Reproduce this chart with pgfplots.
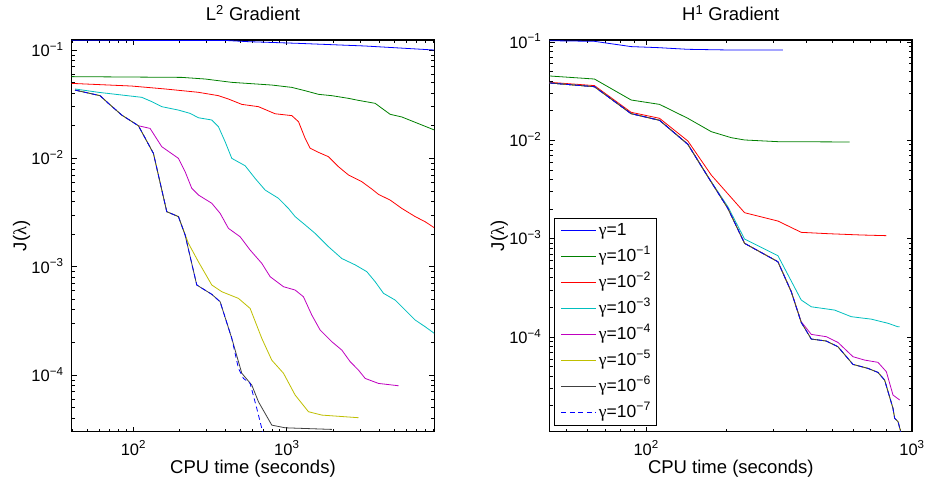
\documentclass[border=0pt]{standalone}
\usepackage{fontspec}
\setmainfont{Liberation Sans}
\newfontfamily\greekfont{Liberation Serif}
\usepackage{pgfplots}
\pgfplotsset{compat=1.18}

\definecolor{cB}{rgb}{0,0,1}
\definecolor{cG}{rgb}{0,0.5,0}
\definecolor{cR}{rgb}{1,0,0}
\definecolor{cC}{rgb}{0,0.75,0.75}
\definecolor{cM}{rgb}{0.75,0,0.75}
\definecolor{cY}{rgb}{0.75,0.75,0}
\definecolor{cK}{rgb}{0.25,0.25,0.25}

\pgfplotsset{
  myaxis/.style={
    scale only axis,
    width=362.5pt, height=391.7pt,
    anchor=south west,
    tick align=inside,
    major tick length=5pt, minor tick length=3pt,
    axis line style={line width=1.3pt},
    every tick/.append style={line width=0.7pt, black},
    tick label style={font=\fontsize{16.5}{18}\selectfont},
    xticklabel style={anchor=base, inner sep=0pt, yshift=-23.3pt},
    yticklabel style={anchor=base east, inner sep=0pt, xshift=-8pt, yshift=-6.3pt},
    xlabel style={font=\fontsize{18.5}{20}\selectfont, at={(axis description cs:0.5,0)}, anchor=base, yshift=-41.6pt},
    ylabel style={font=\fontsize{18.5}{20}\selectfont, at={(axis description cs:-0.125,0.5)}, anchor=base},
    title style={font=\fontsize{18.5}{20}\selectfont, at={(axis description cs:0.5,1)}, anchor=base, yshift=13.3pt},
    xtick={100,1000}, xticklabels={10\textsuperscript{2},10\textsuperscript{3}},
    ytick={1e-4,1e-3,1e-2,1e-1},
    yticklabels={10\textsuperscript{−4},10\textsuperscript{−3},10\textsuperscript{−2},10\textsuperscript{−1}},
    minor ytick={2e-5,3e-5,4e-5,5e-5,6e-5,7e-5,8e-5,9e-5,2e-4,3e-4,4e-4,5e-4,6e-4,7e-4,8e-4,9e-4,2e-3,3e-3,4e-3,5e-3,6e-3,7e-3,8e-3,9e-3,2e-2,3e-2,4e-2,5e-2,6e-2,7e-2,8e-2,9e-2},
    xlabel={CPU time (seconds)},
    ylabel={J({\greekfont λ})},
  }
}

\begin{document}
\begin{tikzpicture}[x=1pt,y=1pt]
\path[use as bounding box, fill=white] (0,0) rectangle (925,480);

% ---------------- Left: L2 gradient ----------------
\begin{loglogaxis}[myaxis, at={(71.7pt,48.3pt)},
  xmin=39.6, xmax=9140, ymin=3.0e-5, ymax=0.1237,
  minor xtick={40,50,60,70,80,90,200,300,400,500,600,700,800,900,2000,3000,4000,5000,6000,7000,8000,9000},
  title={L\textsuperscript{2} Gradient}]
\addplot[color=cB, line width=0.8pt] coordinates {(39.6,0.1230) (400,0.1225) (562,0.1194) (1192,0.1152) (3243,0.1089) (9140,0.1000)};
\addplot[color=cG, line width=0.8pt] coordinates {(39.6,0.0568) (206.7,0.0559) (293.4,0.0540) (437.8,0.0503) (798.6,0.0475) (1078,0.0452) (1317,0.0421) (1609,0.0390) (1966,0.0379) (2525,0.0358) (2934,0.0343) (3768,0.0322) (4165,0.0290) (4719,0.0255) (5623,0.0241) (6871,0.0215) (9140,0.0183)};
\addplot[color=cR, line width=0.8pt] coordinates {(39.6,0.0492) (97.5,0.0465) (160.9,0.0437) (265.4,0.0407) (358.4,0.0379) (416.4,0.0353) (508.6,0.0315) (653.5,0.0300) (759.3,0.0274) (839.3,0.0258) (1078,0.0248) (1192,0.0218) (1317,0.0153) (1420,0.0124) (1609,0.01136) (1869,0.01036) (2173,0.00837) (2525,0.00702) (3084,0.00609) (3584,0.00521) (3962,0.00465) (4719,0.00412) (5623,0.00345) (6871,0.00290) (7986,0.00260) (9140,0.00229)};
\addplot[color=cC, line width=0.8pt] coordinates {(41.6,0.0437) (59.1,0.0407) (113.3,0.0366) (131.7,0.0334) (153.0,0.0300) (196.6,0.0279) (234.3,0.0260) (265.4,0.0237) (324.3,0.0226) (358.4,0.0196) (396.1,0.01425) (437.8,0.0100) (534.9,0.00855) (621.6,0.00653) (722.3,0.00510) (882.3,0.00428) (1025,0.00345) (1133,0.00290) (1317,0.00243) (1530,0.00203) (1869,0.00153) (2284,0.00119) (2790,0.00104) (3324,0.00090) (3768,0.000727) (4270,0.000568) (5087,0.000492) (5910,0.000398) (6871,0.000322) (7986,0.000279) (9140,0.000243)};
\addplot[color=cM, line width=0.8pt] coordinates {(107.8,0.0200) (128.4,0.0189) (153.0,0.01282) (196.6,0.0100) (217.3,0.00753) (240.2,0.00529) (265.4,0.00459) (324.3,0.00385) (367.5,0.00311) (416.4,0.00226) (496.2,0.00189) (576.8,0.001425) (687.1,0.001074) (778.8,0.000809) (951.1,0.000654) (1133,0.000609) (1284,0.000528) (1455,0.000358) (1650,0.000260) (1966,0.000203) (2284,0.000170) (2588,0.000133) (2934,0.000111) (3243,0.0000931) (3962,0.0000837) (5350,0.0000797)};
\addplot[color=cY, line width=0.8pt] coordinates {(41.6,0.0427) (60.6,0.0379) (68.7,0.0322) (83.9,0.0251) (107.8,0.0200) (135.0,0.01112) (165.0,0.00322) (196.6,0.00290) (228.5,0.00164) (265.4,0.00111) (324.3,0.000678) (376.8,0.000588) (483.9,0.000510) (576.8,0.000412) (687.1,0.000218) (798.6,0.000137) (951.1,0.000104) (1133,0.0000654) (1384,0.0000459) (1692,0.0000427) (2934,0.0000404)};
\addplot[color=cK, line width=0.8pt] coordinates {(41.6,0.0427) (60.6,0.0379) (68.7,0.0322) (83.9,0.0251) (107.8,0.0200) (135.0,0.01112) (165.0,0.00322) (196.6,0.00290) (217.3,0.00196) (258.8,0.000678) (324.3,0.000556) (367.5,0.000475) (437.8,0.000218) (508.6,0.000104) (591.0,0.0000809) (653.5,0.0000567) (798.6,0.0000345) (975.2,0.0000326) (1966,0.0000315)};
\addplot[color=cB, line width=0.8pt, dash pattern=on 5pt off 3.5pt] coordinates {(41.6,0.0427) (60.6,0.0379) (68.7,0.0322) (83.9,0.0251) (107.8,0.0200) (135.0,0.01112) (165.0,0.00322) (196.6,0.00290) (217.3,0.00196) (258.8,0.000678) (324.3,0.000556) (367.5,0.000475) (437.8,0.000218) (483.9,0.000115) (521.7,0.0000931) (576.8,0.0000837) (637.3,0.0000492) (704.5,0.0000279)};
\end{loglogaxis}

% ---------------- Right: H1 gradient ----------------
\begin{loglogaxis}[myaxis, at={(549.5pt,48.3pt)},
  xmin=43.3, xmax=1000, ymin=1.09e-5, ymax=0.1047,
  minor xtick={50,60,70,80,90,200,300,400,500,600,700,800,900},
  title={H\textsuperscript{1} Gradient},
  legend style={at={(axis description cs:0,0)}, anchor=south west, xshift=4.8pt, yshift=6.25pt,
    draw=black, line width=0.9pt, fill=white, inner xsep=6pt, inner ysep=4.5pt,
    font=\fontsize{17.5}{19}\selectfont, row sep=10pt,
    nodes={inner sep=0pt, text height=12.5pt, text depth=3.5pt},
    /tikz/every odd column/.append style={column sep=2pt},
    cells={anchor=west}},
  legend image code/.code={\draw[#1, line width=1.2pt] (0pt,0pt) -- (35pt,0pt);}]
\addplot[color=cB, line width=0.8pt] coordinates {(43.3,0.1030) (63.9,0.1015) (87.8,0.0897) (110.6,0.0876) (143.5,0.0842) (202.9,0.0829) (326.9,0.0829)};
\addlegendentry{{\greekfont γ}=1}
\addplot[color=cG, line width=0.8pt] coordinates {(43.3,0.0451) (63.9,0.0420) (87.8,0.0257) (112.3,0.0232) (143.5,0.01674) (175.7,0.01225) (208.9,0.01064) (234.5,0.01008) (313.0,0.00969) (582.8,0.00962)};
\addlegendentry{{\greekfont γ}=10\textsuperscript{−1}}
\addplot[color=cR, line width=0.8pt] coordinates {(43.3,0.0389) (63.9,0.0360) (87.8,0.01927) (112.3,0.01674) (143.5,0.00985) (175.7,0.00444) (234.5,0.001838) (313.0,0.001512) (383.1,0.001160) (482.9,0.001124) (644.7,0.001090) (800.8,0.001073)};
\addlegendentry{{\greekfont γ}=10\textsuperscript{−2}}
\addplot[color=cC, line width=0.8pt] coordinates {(43.3,0.0383) (63.9,0.0351) (87.8,0.01867) (112.3,0.01598) (143.5,0.00911) (170.7,0.00427) (202.9,0.002116) (234.5,0.000992) (313.0,0.000672) (383.1,0.000238) (417.9,0.000203) (511.5,0.000188) (591.1,0.000161) (703.1,0.000152) (812.2,0.000138) (886.0,0.000127) (898.9,0.000127)};
\addlegendentry{{\greekfont γ}=10\textsuperscript{−3}}
\addplot[color=cM, line width=0.8pt] coordinates {(43.3,0.0383) (63.9,0.0351) (87.8,0.01867) (112.3,0.01598) (143.5,0.00911) (170.7,0.00427) (202.9,0.002034) (234.5,0.000897) (313.0,0.000583) (351.4,0.000289) (383.1,0.000143) (417.9,0.0001064) (475.9,0.0001008) (526.5,0.0000882) (599.8,0.0000631) (663.4,0.0000583) (744.7,0.0000553) (800.8,0.0000444) (848.2,0.0000257) (898.9,0.0000229)};
\addlegendentry{{\greekfont γ}=10\textsuperscript{−4}}
\addplot[color=cY, line width=0.8pt] coordinates {(43.3,0.0383) (63.9,0.0351) (87.8,0.01867) (112.3,0.01598) (143.5,0.00911) (170.7,0.00427) (202.9,0.002034) (234.5,0.000897) (313.0,0.000583) (351.4,0.000289) (383.1,0.000141) (417.9,0.0000954) (475.9,0.0000911) (526.5,0.0000797) (599.8,0.0000527) (683.0,0.0000480) (744.7,0.0000437) (789.0,0.0000365) (848.2,0.0000188) (860.6,0.0000149) (886.0,0.0000138) (906.6,0.0000109)};
\addlegendentry{{\greekfont γ}=10\textsuperscript{−5}}
\addplot[color=cK, line width=0.8pt] coordinates {(43.3,0.0383) (63.9,0.0351) (87.8,0.01867) (112.3,0.01598) (143.5,0.00911) (170.7,0.00427) (202.9,0.002034) (234.5,0.000897) (313.0,0.000583) (351.4,0.000289) (383.1,0.000141) (417.9,0.0000954) (475.9,0.0000911) (526.5,0.0000797) (599.8,0.0000527) (683.0,0.0000480) (744.7,0.0000437) (789.0,0.0000365) (848.2,0.0000188) (860.6,0.0000149) (886.0,0.0000138) (906.6,0.0000109)};
\addlegendentry{{\greekfont γ}=10\textsuperscript{−6}}
\addplot[color=cB, line width=0.8pt, dash pattern=on 5pt off 3.5pt] coordinates {(43.3,0.0383) (63.9,0.0351) (87.8,0.01867) (112.3,0.01598) (143.5,0.00911) (170.7,0.00427) (202.9,0.002034) (234.5,0.000897) (313.0,0.000583) (351.4,0.000289) (383.1,0.000141) (417.9,0.0000954) (475.9,0.0000911) (526.5,0.0000797) (599.8,0.0000527) (683.0,0.0000480) (744.7,0.0000437) (789.0,0.0000365) (848.2,0.0000188) (860.6,0.0000149) (886.0,0.0000138) (906.6,0.0000109)};
\addlegendentry{{\greekfont γ}=10\textsuperscript{−7}}
\end{loglogaxis}
\end{tikzpicture}
\end{document}
